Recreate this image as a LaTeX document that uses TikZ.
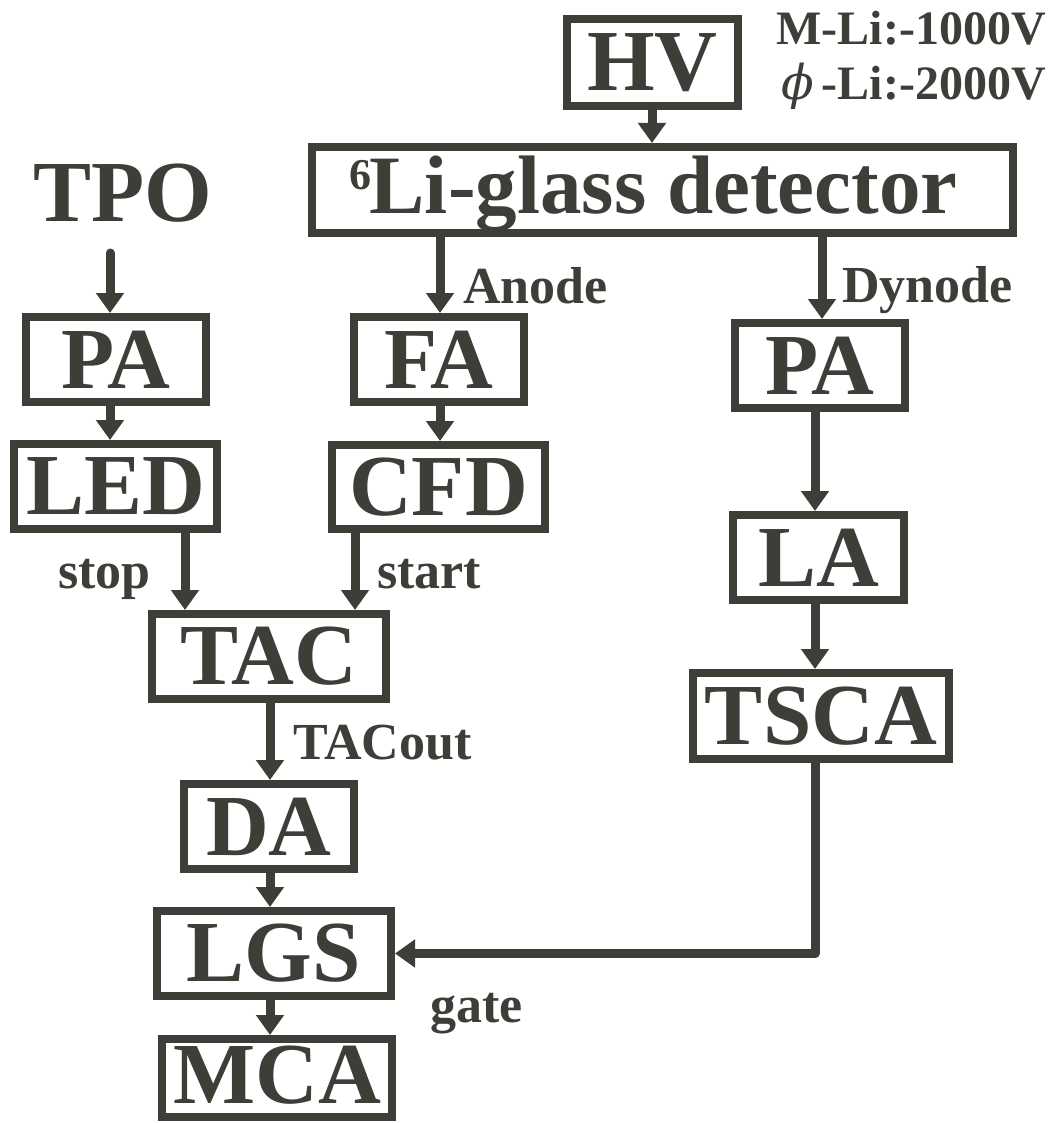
\documentclass[tikz,border=0pt]{standalone}
\usepackage{fontspec}
\setmainfont{Liberation Serif}
\newfontfamily\phifont{DejaVu Serif}
\usetikzlibrary{arrows.meta}
\definecolor{ink}{RGB}{62,62,56}
\newcommand\BoxFont{\fontsize{87}{90}\selectfont\bfseries}
\newcommand\LiFont{\fontsize{83}{88}\selectfont\bfseries}
\newcommand\LabFont{\fontsize{52}{56}\selectfont\bfseries}
\newcommand\HVFont{\fontsize{48}{52}\selectfont\bfseries}
\begin{document}
\begin{tikzpicture}[x=1pt,y=-1pt,
  box/.style={draw=ink, line width=8pt, inner sep=0pt, text=ink, font=\BoxFont},
  bigtext/.style={inner sep=0pt, text=ink, font=\BoxFont},
  lab/.style={inner sep=0pt, text=ink, font=\LabFont, anchor=base west},
  hvlab/.style={inner sep=0pt, text=ink, font=\HVFont, anchor=base east},
  arr/.style={draw=ink, line width=9pt, line cap=round, line join=round,
    -{Triangle[width=27pt,length=20pt]}}]
\useasboundingbox (0,0) rectangle (1063,1123);

% boxes
\node[box, minimum width=171pt, minimum height=87pt] (hv) at (652.5,62.5) {HV};
\node[box, minimum width=701pt, minimum height=86pt, font=\LiFont] (li) at (662.5,190)
  {\raisebox{-4pt}[\height][\depth]{\raisebox{24pt}{\fontsize{44}{44}\selectfont 6}\kern-2pt Li-glass detector\hspace*{18pt}}};
\node[box, minimum width=180pt, minimum height=85pt] (pa1) at (116,359.5) {PA};
\node[box, minimum width=170pt, minimum height=85pt] (fa) at (439,359.5) {FA};
\node[box, minimum width=170pt, minimum height=85pt] (pa2) at (820,365.5) {PA};
\node[box, minimum width=203pt, minimum height=85pt] (led) at (115.5,486.5) {LED};
\node[box, minimum width=213pt, minimum height=84pt] (cfd) at (438.5,487) {CFD};
\node[box, minimum width=171pt, minimum height=85pt] (la) at (818.5,557.5) {LA};
\node[box, minimum width=234pt, minimum height=85pt] (tac) at (269,656.5) {TAC};
\node[box, minimum width=256pt, minimum height=86pt] (tsca) at (821,716) {TSCA};
\node[box, minimum width=170pt, minimum height=85pt] (da) at (269,826.5) {DA};
\node[box, minimum width=234pt, minimum height=85pt] (lgs) at (274,953.5) {LGS};
\node[box, minimum width=230pt, minimum height=78pt] (mca) at (277,1078)
  {\raisebox{3pt}[\height][\depth]{MCA}};

% free texts
\node[bigtext, anchor=base] (tpo) at (123,222) {TPO};
\node[hvlab] (v1) at (1046,45) {M-Li:-1000V};
\node[hvlab] (v2) at (1046,100) {{\phifont\itshape\mdseries ϕ}\,-Li:-2000V};
\node[lab] (anode) at (463,303) {Anode};
\node[lab] (dynode) at (842,302) {Dynode};
\node[lab] (stop) at (58,588) {stop};
\node[lab] (start) at (377,588) {start};
\node[lab] (tacout) at (293,759) {TACout};
\node[lab] (gate) at (430,1022) {gate};

% x positions of connectors
\coordinate (c652) at (652,0);
\coordinate (c110) at (110,0);
\coordinate (c440) at (440,0);
\coordinate (c822) at (822,0);
\coordinate (c815) at (815,0);
\coordinate (c185) at (185,0);
\coordinate (c355) at (355,0);
\coordinate (c270) at (270,0);
\coordinate (tpoend) at (110,253);

% connectors
\draw[arr] (hv.south -| c652) -- (li.north -| c652);
\draw[arr] (tpoend) -- (pa1.north -| c110);
\draw[arr] (pa1.south -| c110) -- (led.north -| c110);
\draw[arr] (li.south -| c440) -- (fa.north -| c440);
\draw[arr] (fa.south -| c440) -- (cfd.north -| c440);
\draw[arr] (li.south -| c822) -- (pa2.north -| c822);
\draw[arr] (pa2.south -| c815) -- (la.north -| c815);
\draw[arr] (la.south -| c815) -- (tsca.north -| c815);
\draw[arr] (led.south -| c185) -- (tac.north -| c185);
\draw[arr] (cfd.south -| c355) -- (tac.north -| c355);
\draw[arr] (tac.south -| c270) -- (da.north -| c270);
\draw[arr] (da.south -| c270) -- (lgs.north -| c270);
\draw[arr] (lgs.south -| c270) -- (mca.north -| c270);
\draw[arr] (tsca.south -| c815) -- (c815 |- lgs.east) -- (lgs.east);
\end{tikzpicture}
\end{document}
